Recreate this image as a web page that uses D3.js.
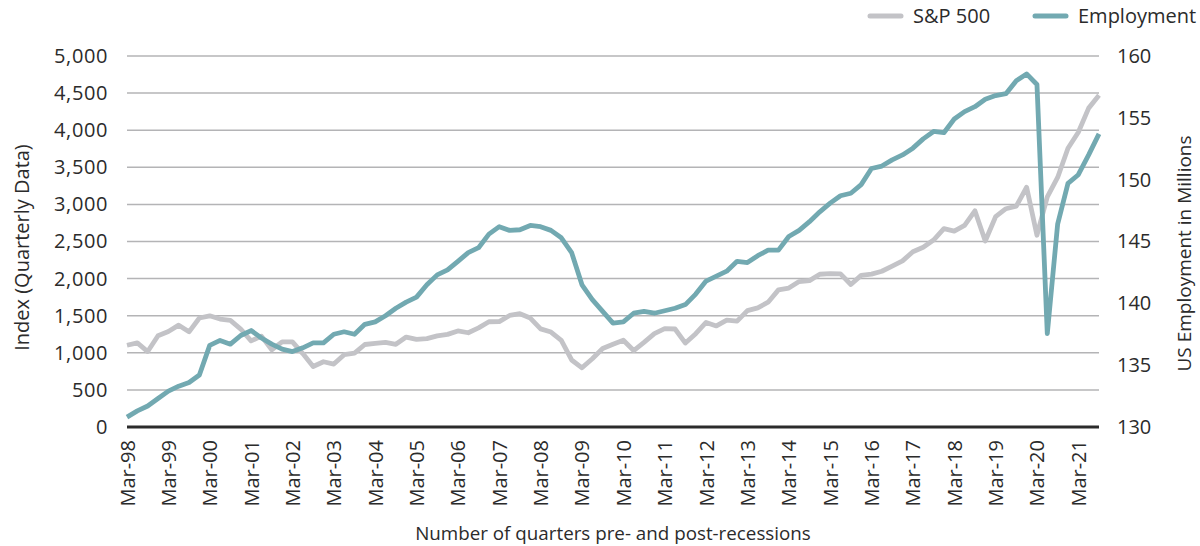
<!DOCTYPE html>
<html>
<head>
<meta charset="utf-8">
<script src="https://cdn.jsdelivr.net/npm/d3@7"></script>
<style>
  body { margin: 0; background: #fff; }
  text { font-family: "Open Sans", sans-serif; fill: #2b2b2b; }
</style>
</head>
<body>
<script>
var canvasWidth = 1200;
var canvasHeight = 546;
var margin = { top: 56, right: 101, bottom: 119, left: 127 };

// quarters, Mar-98 .. Sep-21
var quarters = [
  "Mar-98","Jun-98","Sep-98","Dec-98","Mar-99","Jun-99","Sep-99","Dec-99",
  "Mar-00","Jun-00","Sep-00","Dec-00","Mar-01","Jun-01","Sep-01","Dec-01",
  "Mar-02","Jun-02","Sep-02","Dec-02","Mar-03","Jun-03","Sep-03","Dec-03",
  "Mar-04","Jun-04","Sep-04","Dec-04","Mar-05","Jun-05","Sep-05","Dec-05",
  "Mar-06","Jun-06","Sep-06","Dec-06","Mar-07","Jun-07","Sep-07","Dec-07",
  "Mar-08","Jun-08","Sep-08","Dec-08","Mar-09","Jun-09","Sep-09","Dec-09",
  "Mar-10","Jun-10","Sep-10","Dec-10","Mar-11","Jun-11","Sep-11","Dec-11",
  "Mar-12","Jun-12","Sep-12","Dec-12","Mar-13","Jun-13","Sep-13","Dec-13",
  "Mar-14","Jun-14","Sep-14","Dec-14","Mar-15","Jun-15","Sep-15","Dec-15",
  "Mar-16","Jun-16","Sep-16","Dec-16","Mar-17","Jun-17","Sep-17","Dec-17",
  "Mar-18","Jun-18","Sep-18","Dec-18","Mar-19","Jun-19","Sep-19","Dec-19",
  "Mar-20","Jun-20","Sep-20","Dec-20","Mar-21","Jun-21","Sep-21"
];

var tickLabels = ["Mar-98","Mar-99","Mar-00","Mar-01","Mar-02","Mar-03","Mar-04","Mar-05",
  "Mar-06","Mar-07","Mar-08","Mar-09","Mar-10","Mar-11","Mar-12","Mar-13","Mar-14",
  "Mar-15","Mar-16","Mar-17","Mar-18","Mar-19","Mar-20","Mar-21"];

var sp500 = [
  1101.75, 1133.84, 1017.01, 1229.23,
  1286.37, 1372.71, 1282.71, 1469.25,
  1498.58, 1454.60, 1436.51, 1320.28,
  1160.33, 1224.42, 1040.94, 1148.08,
  1147.39, 989.82, 815.28, 879.82,
  848.18, 974.50, 995.97, 1111.92,
  1126.21, 1140.84, 1114.58, 1211.92,
  1180.59, 1191.33, 1228.81, 1248.29,
  1294.83, 1270.20, 1335.85, 1418.30,
  1420.86, 1503.35, 1526.75, 1468.36,
  1322.70, 1280.00, 1166.36, 903.25,
  797.87, 919.32, 1057.08, 1115.10,
  1169.43, 1030.71, 1141.20, 1257.64,
  1325.83, 1320.64, 1131.42, 1257.60,
  1408.47, 1362.16, 1440.67, 1426.19,
  1569.19, 1606.28, 1681.55, 1848.36,
  1872.34, 1960.23, 1972.29, 2058.90,
  2067.89, 2063.11, 1920.03, 2043.94,
  2059.74, 2098.86, 2168.27, 2238.83,
  2362.72, 2423.41, 2519.36, 2673.61,
  2640.87, 2718.37, 2913.98, 2506.85,
  2834.40, 2941.76, 2976.74, 3230.78,
  2584.59, 3100.29, 3363.00, 3756.07,
  3972.89, 4297.50, 4470
];

// US employment, millions
var employment = [
  130.8, 131.3, 131.7, 132.3,
  132.9, 133.3, 133.6, 134.2,
  136.6, 137.0, 136.7, 137.4,
  137.8, 137.2, 136.7, 136.3,
  136.1, 136.4, 136.8, 136.8,
  137.5, 137.7, 137.5, 138.3,
  138.5, 139.0, 139.6, 140.1,
  140.5, 141.5, 142.3, 142.7,
  143.4, 144.1, 144.5, 145.6,
  146.2, 145.9, 145.95, 146.3,
  146.2, 145.9, 145.3, 144.1,
  141.5, 140.3, 139.35, 138.4,
  138.5, 139.2, 139.35, 139.2,
  139.4, 139.6, 139.9, 140.75,
  141.8, 142.2, 142.6, 143.4,
  143.3, 143.85, 144.3, 144.3,
  145.4, 145.9, 146.6, 147.4,
  148.1, 148.7, 148.9, 149.6,
  150.9, 151.1, 151.6, 152.0,
  152.55, 153.3, 153.9, 153.8,
  154.9, 155.5, 155.9, 156.5,
  156.8, 156.95, 158.0, 158.55,
  157.7, 137.55, 146.4, 149.7,
  150.4, 152.0, 153.7
];

var leftTicks = [0, 500, 1000, 1500, 2000, 2500, 3000, 3500, 4000, 4500, 5000];
var rightTicks = [130, 135, 140, 145, 150, 155, 160];

var spColor = "#c3c3c7";
var empColor = "#72a9b1";

var width = canvasWidth - margin.left - margin.right;
var height = canvasHeight - margin.top - margin.bottom;

var svg = d3.select("body").append("svg")
    .attr("width", canvasWidth)
    .attr("height", canvasHeight);

var g = svg.append("g")
    .attr("transform", "translate(" + margin.left + "," + margin.top + ")");

var xScale = d3.scalePoint().domain(quarters).range([0, width]);
var yLeft = d3.scaleLinear().domain([0, 5000]).range([height, 0]);
var yRight = d3.scaleLinear().domain([130, 160]).range([height, 0]);

// gridlines
g.append("g")
  .selectAll("line")
  .data(leftTicks.slice(1))
  .enter().append("line")
    .attr("x1", 0)
    .attr("x2", width)
    .attr("y1", d => yLeft(d))
    .attr("y2", d => yLeft(d))
    .attr("stroke", "#b4b4b6")
    .attr("stroke-width", 1.5);

// left axis
var leftAxis = g.append("g")
    .call(d3.axisLeft(yLeft).tickValues(leftTicks).tickSize(0).tickPadding(19).tickFormat(d3.format(",")));
leftAxis.select(".domain").remove();
leftAxis.selectAll("text")
    .attr("font-size", "20px")
    .attr("font-family", "Open Sans, sans-serif")
    .attr("fill", "#2b2b2b")
    .attr("letter-spacing", "0.6px");

// right axis
var rightAxis = g.append("g")
    .attr("transform", "translate(" + width + ",0)")
    .call(d3.axisRight(yRight).tickValues(rightTicks).tickSize(0).tickPadding(18));
rightAxis.select(".domain").remove();
rightAxis.selectAll("text")
    .attr("font-size", "20px")
    .attr("font-family", "Open Sans, sans-serif")
    .attr("fill", "#2b2b2b");

// bottom axis
var bottomAxis = g.append("g")
    .attr("transform", "translate(0," + height + ")")
    .call(d3.axisBottom(xScale)
        .tickValues(tickLabels)
        .tickSize(0)
        .tickPadding(0));
bottomAxis.select(".domain").remove();
bottomAxis.selectAll("text")
    .attr("font-size", "20px")
    .attr("font-family", "Open Sans, sans-serif")
    .attr("fill", "#2b2b2b")
    .attr("text-anchor", "end")
    .attr("transform", "rotate(-90)")
    .attr("x", -13)
    .attr("y", 0)
    .attr("dy", "0.35em");

// baseline
g.append("line")
    .attr("x1", 0)
    .attr("x2", width)
    .attr("y1", height)
    .attr("y2", height)
    .attr("stroke", "#2b2b2b")
    .attr("stroke-width", 3);

var spLine = d3.line()
    .x((d, i) => xScale(quarters[i]))
    .y(d => yLeft(d));

var empLine = d3.line()
    .x((d, i) => xScale(quarters[i]))
    .y(d => yRight(d));

g.append("path")
    .datum(sp500)
    .attr("d", spLine)
    .attr("fill", "none")
    .attr("stroke", spColor)
    .attr("stroke-width", 4.8)
    .attr("stroke-linejoin", "round");

g.append("path")
    .datum(employment)
    .attr("d", empLine)
    .attr("fill", "none")
    .attr("stroke", empColor)
    .attr("stroke-width", 4.8)
    .attr("stroke-linejoin", "round");

// axis titles
svg.append("text")
    .attr("transform", "translate(22," + (margin.top + height / 2 + 6) + ") rotate(-90)")
    .attr("text-anchor", "middle")
    .attr("dy", "0.35em")
    .attr("font-size", "20px")
    .text("Index (Quarterly Data)");

svg.append("text")
    .attr("transform", "translate(1184," + (margin.top + height / 2 + 12) + ") rotate(-90)")
    .attr("text-anchor", "middle")
    .attr("dy", "0.35em")
    .attr("font-size", "19px")
    .text("US Employment in Millions");

svg.append("text")
    .attr("x", 613)
    .attr("y", 533)
    .attr("text-anchor", "middle")
    .attr("dy", "0.35em")
    .attr("font-size", "18.8px")
    .text("Number of quarters pre- and post-recessions");

// legend
var legend = [
  { name: "S&P 500", color: spColor, x: 868 },
  { name: "Employment", color: empColor, x: 1033 }
];
var lg = svg.append("g").selectAll("g").data(legend).enter().append("g")
    .attr("transform", d => "translate(" + d.x + ",16)");
lg.append("line")
    .attr("x1", 2).attr("x2", 33)
    .attr("stroke", d => d.color)
    .attr("stroke-width", 5)
    .attr("stroke-linecap", "round");
lg.append("text")
    .attr("x", 45)
    .attr("dy", "0.35em")
    .attr("font-size", "20px")
    .text(d => d.name);
</script>
</body>
</html>
